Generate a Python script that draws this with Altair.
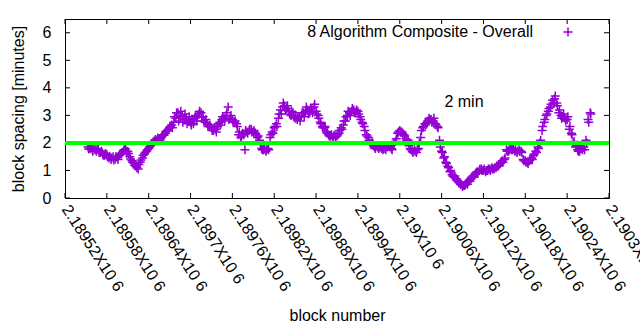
import altair as alt
import pandas as pd

# ---- data ----
block_start = 2189553
block_start_b = 2189554
block_step = 3
spacing = [
    1.85, 1.8, 1.75, 1.82, 1.7, 1.78, 1.65, 1.6, 1.55, 1.58,
    1.45, 1.4, 1.5, 1.42, 1.48, 1.55, 1.6, 1.72, 1.78, 1.7,
    1.5, 1.35, 1.25, 1.15, 1.05, 1.3, 1.45, 1.6, 1.7, 1.8,
    1.9, 2.0, 2.1, 2.08, 2.15, 2.2, 2.3, 2.35, 2.45, 2.55,
    2.65, 2.75, 2.9, 3.1, 2.95, 3.0, 2.85, 2.9, 2.8, 2.75,
    2.85, 2.9, 2.8, 3.05, 3.1, 2.95, 2.75, 2.7, 2.6, 2.55,
    2.45, 2.5, 2.6, 2.75, 2.85, 2.9, 3.0, 3.3, 2.9, 2.85,
    2.75, 2.7, 2.3, 2.2, 2.35, 1.75, 2.4, 2.45, 2.5, 2.4,
    2.35, 2.2, 2.1, 1.8, 1.75, 1.7, 1.8, 2.2, 2.4, 2.55,
    2.7, 2.9, 3.2, 3.3, 3.35, 3.25, 3.15, 3.0, 3.1, 2.9,
    2.85, 2.95, 3.0, 3.1, 3.15, 3.2, 3.1, 3.25, 3.3, 3.15,
    3.0, 2.75, 2.6, 2.55, 2.4, 2.3, 2.25, 2.2, 2.3, 2.25,
    2.35, 2.55, 2.65, 2.8, 3.0, 3.1, 3.15, 3.2, 3.1, 3.15,
    2.95, 2.75, 2.6, 2.3, 2.2, 1.95, 2.0, 1.85, 1.9, 1.8,
    1.85, 1.75, 1.8, 1.85, 1.9, 1.8, 1.95, 2.05, 2.35, 2.45,
    2.4, 2.3, 2.15, 2.1, 1.8, 1.7, 1.75, 1.65, 1.8, 2.2,
    2.55, 2.7, 2.75, 2.9, 2.85, 2.8, 2.7, 2.6, 2.1, 1.7,
    1.45, 1.3, 1.15, 0.95, 0.85, 0.75, 0.7, 0.6, 0.5, 0.42,
    0.45, 0.55, 0.6, 0.7, 0.8, 0.85, 0.95, 1.0, 1.05, 1.0,
    0.95, 1.0, 1.05, 1.1, 1.05, 1.1, 1.15, 1.25, 1.35, 1.4,
    1.75, 1.7, 1.8, 1.75, 1.7, 1.65, 1.75, 1.7, 1.4, 1.35,
    1.3, 1.35, 1.45, 1.55, 1.7, 1.85, 2.0, 2.45, 2.75, 3.0,
    3.15, 3.3, 3.55, 3.6, 3.45, 3.1, 3.0, 2.95, 2.9, 2.85,
    2.5, 2.35, 2.0, 1.85, 1.75, 1.7, 1.8, 1.85, 2.1, 2.85,
    3.1,
]
spacing_b = [
    1.78, 1.88, 1.7, 1.75, 1.78, 1.65, 1.7, 1.55, 1.62, 1.5,
    1.52, 1.45, 1.38, 1.5, 1.4, 1.6, 1.65, 1.75, 1.68, 1.62,
    1.42, 1.3, 1.18, 1.1, 1.22, 1.38, 1.55, 1.65, 1.75, 1.85,
    1.95, 2.05, 2.12, 2.18, 2.1, 2.25, 2.28, 2.42, 2.5, 2.6,
    2.55, 2.95, 3.1, 2.8, 3.15, 2.75, 3.05, 2.7, 2.95, 2.65,
    2.7, 3.0, 2.95, 3.15, 2.95, 2.8, 2.85, 2.6, 2.65, 2.45,
    2.55, 2.4, 2.7, 2.65, 2.95, 2.8, 3.1, 2.85, 3.0, 2.75,
    2.8, 2.6, 2.4, 2.25, 2.3, 2.45, 2.35, 2.5, 2.4, 2.45,
    2.3, 2.25, 1.95, 1.75, 1.8, 1.75, 1.75, 2.3, 2.35, 2.6,
    2.6, 3.05, 3.05, 3.45, 3.2, 3.35, 3.05, 3.15, 2.95, 3.0,
    2.95, 2.8, 3.1, 2.95, 3.3, 3.05, 3.25, 3.1, 3.4, 3.05,
    2.9, 2.7, 2.55, 2.6, 2.35, 2.25, 2.3, 2.25, 2.2, 2.3,
    2.45, 2.5, 2.8, 2.95, 3.15, 3.0, 3.25, 3.1, 3.2, 3.05,
    2.85, 2.7, 2.45, 2.25, 2.1, 2.0, 1.9, 1.8, 1.85, 1.85,
    1.8, 1.8, 1.75, 1.9, 1.85, 1.75, 2.0, 2.15, 2.4, 2.4,
    2.35, 2.25, 2.1, 1.9, 1.75, 1.65, 1.7, 1.75, 2.0, 2.45,
    2.6, 2.65, 2.8, 2.85, 2.75, 2.9, 2.65, 2.55, 1.85, 1.65,
    1.5, 1.25, 1.1, 1.0, 0.8, 0.8, 0.65, 0.55, 0.48, 0.45,
    0.5, 0.5, 0.65, 0.75, 0.75, 0.9, 0.9, 1.05, 1.0, 1.05,
    1.0, 1.05, 1.0, 1.05, 1.1, 1.15, 1.2, 1.3, 1.3, 1.45,
    1.7, 1.75, 1.75, 1.8, 1.75, 1.7, 1.7, 1.65, 1.35, 1.3,
    1.25, 1.4, 1.4, 1.6, 1.65, 1.8, 2.1, 2.6, 2.85, 3.05,
    3.25, 3.4, 3.45, 3.7, 3.35, 3.2, 2.9, 3.05, 2.8, 2.95,
    2.6, 2.3, 2.05, 1.9, 1.7, 1.8, 1.75, 1.75, 2.0, 2.75,
    3.05,
]
blocks = list(range(block_start, block_start + block_step * len(spacing), block_step))
blocks_b = list(range(block_start_b, block_start_b + block_step * len(spacing_b), block_step))

x_ticks = [2189520, 2189580, 2189640, 2189700, 2189760, 2189820, 2189880,
           2189940, 2190000, 2190060, 2190120, 2190180, 2190240, 2190300]
x_tick_labels = ["2.18952X10 6", "2.18958X10 6", "2.18964X10 6", "2.1897X10 6",
                 "2.18976X10 6", "2.18982X10 6", "2.18988X10 6", "2.18994X10 6",
                 "2.19X10 6", "2.19006X10 6", "2.19012X10 6", "2.19018X10 6",
                 "2.19024X10 6", "2.1903X10 6"]
y_ticks = [0, 1, 2, 3, 4, 5, 6]
target = [2]
note_block = [2190064]
note_value = [3.5]
note_text = ["2 min"]
series_name = ["8 Algorithm Composite - Overall"]

# ---- chart ----
W, H = 544, 179
FONT = "Liberation Sans"
FS = 16
PURPLE = "#9400D3"
PLUS = "M-1,0L1,0M0,-1L0,1"

x_scale = alt.Scale(domain=[2189520, 2190300], nice=False, zero=False)
y_scale = alt.Scale(domain=[0, 6.5], nice=False, zero=False)

label_expr = ("[" + ",".join("'%s'" % s for s in x_tick_labels) + "][indexof("
              + str(x_ticks) + ", datum.value)]")

ax_x = alt.Axis(
    values=x_ticks, labelExpr=label_expr, labelAngle=57, labelAlign="left",
    labelBaseline="middle", labelPadding=8, ticks=False, domain=False, grid=False,
    labelFont=FONT, labelFontSize=FS, labelColor="black", labelOverlap=False,
    labelFlush=False, labelBound=False, title="block number", titleFont=FONT,
    titleFontSize=FS, titleFontWeight="normal", titleColor="black", titleY=117,
    titleBaseline="middle")
ax_y = alt.Axis(
    values=y_ticks, format="d", ticks=False, domain=False, grid=False,
    labelFont=FONT, labelFontSize=FS, labelColor="black", labelPadding=14,
    title="block spacing [minutes]", titleFont=FONT, titleFontSize=FS,
    titleFontWeight="normal", titleColor="black", titleX=-47, titleY=H / 2,
    titleBaseline="middle", titleAlign="center")

df = pd.DataFrame({"block": blocks + blocks_b, "spacing": spacing + spacing_b})

points = alt.Chart(df).mark_point(
    shape=PLUS, filled=False, color=PURPLE, size=81, strokeWidth=1.5, opacity=1
).encode(
    x=alt.X("block:Q", scale=x_scale, axis=ax_x),
    y=alt.Y("spacing:Q", scale=y_scale, axis=ax_y),
)

ydf = pd.DataFrame({"spacing": y_ticks})
xdf = pd.DataFrame({"block": x_ticks})
ytick_l = alt.Chart(ydf).mark_rule(color="black", strokeWidth=1).encode(
    y=alt.Y("spacing:Q", scale=y_scale, axis=ax_y), x=alt.value(0), x2=alt.value(5))
ytick_r = alt.Chart(ydf).mark_rule(color="black", strokeWidth=1).encode(
    y=alt.Y("spacing:Q", scale=y_scale, axis=ax_y), x=alt.value(W - 5), x2=alt.value(W))
xtick_b = alt.Chart(xdf).mark_rule(color="black", strokeWidth=1).encode(
    x=alt.X("block:Q", scale=x_scale, axis=ax_x), y=alt.value(H), y2=alt.value(H - 5))
xtick_t = alt.Chart(xdf).mark_rule(color="black", strokeWidth=1).encode(
    x=alt.X("block:Q", scale=x_scale, axis=ax_x), y=alt.value(0), y2=alt.value(5))

green = alt.Chart(pd.DataFrame({"spacing": target})).mark_rule(
    color="#00FF00", strokeWidth=4).encode(y=alt.Y("spacing:Q", scale=y_scale, axis=ax_y))

note = alt.Chart(pd.DataFrame({"block": note_block, "spacing": note_value, "t": note_text})).mark_text(
    align="left", baseline="middle", font=FONT, fontSize=FS, color="black"
).encode(x=alt.X("block:Q", scale=x_scale, axis=ax_x),
         y=alt.Y("spacing:Q", scale=y_scale, axis=ax_y), text="t:N")

legend_df = pd.DataFrame({"name": series_name})
legend_text = alt.Chart(legend_df).mark_text(
    align="right", baseline="middle", font=FONT, fontSize=FS, color="black"
).encode(x=alt.value(468), y=alt.value(13), text="name:N")
legend_sym = alt.Chart(legend_df).mark_point(
    shape=PLUS, filled=False, color=PURPLE, size=81, strokeWidth=1.5, opacity=1
).encode(x=alt.value(503), y=alt.value(13))

chart = alt.layer(
    points, ytick_l, ytick_r, xtick_b, xtick_t, green, note, legend_text, legend_sym
).properties(
    width=W, height=H,
    autosize=alt.AutoSizeParams(type="none"),
    padding={"left": 65, "top": 19, "right": 31, "bottom": 132},
    background="white",
).configure_view(stroke="black", strokeWidth=1)

chart.save("out.html", embed_options={"renderer": "svg", "actions": False})
